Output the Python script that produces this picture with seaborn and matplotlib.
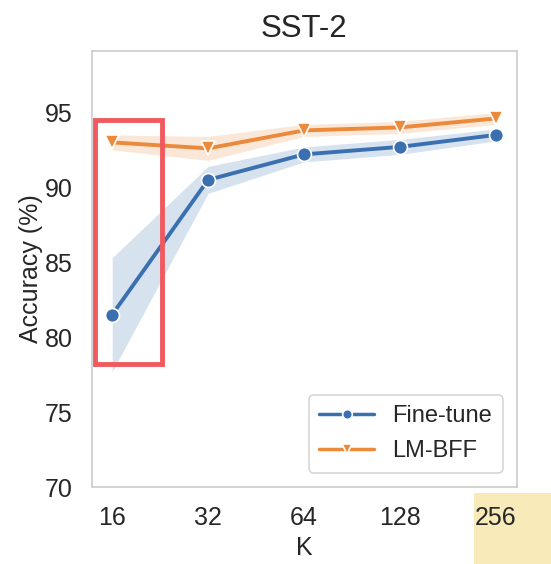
import matplotlib
matplotlib.use("Agg")
import matplotlib.pyplot as plt
import seaborn as sns
import pandas as pd
import numpy as np
from matplotlib.patches import Rectangle

K_labels = ["16", "32", "64", "128", "256"]
finetune_mean = [81.5, 90.5, 92.2, 92.7, 93.5]
finetune_sd = [3.8, 0.9, 0.5, 0.5, 0.4]
lmbff_mean = [93.0, 92.6, 93.8, 94.0, 94.6]
lmbff_sd = [0.5, 0.8, 0.4, 0.4, 0.4]

sns.set_theme(style="whitegrid")
plt.rcParams['font.family'] = ['Liberation Sans', 'DejaVu Sans']

fig = plt.figure(figsize=(5.51, 5.64), dpi=100)
ax = fig.add_axes([92/551, 1-487/564, (517-92)/551, (487-51)/564])

pos = np.arange(len(K_labels))
df = pd.DataFrame({
    "pos": np.concatenate([pos, pos]),
    "acc": finetune_mean + lmbff_mean,
    "method": ["Fine-tune"]*5 + ["LM-BFF"]*5,
})
blue = "#3a6fb0"
orange = "#ea8a3a"
sns.lineplot(data=df, x="pos", y="acc", hue="method", style="method",
             markers={"Fine-tune": "o", "LM-BFF": "v"}, dashes=False,
             palette={"Fine-tune": blue, "LM-BFF": orange},
             linewidth=2.8, markersize=10, markeredgecolor="white",
             markeredgewidth=1.2, ax=ax)
fm, fs = np.array(finetune_mean), np.array(finetune_sd)
lm, ls = np.array(lmbff_mean), np.array(lmbff_sd)
ax.fill_between(pos, fm - fs, fm + fs, color=blue, alpha=0.2, linewidth=0)
ax.fill_between(pos, lm - ls, lm + ls, color=orange, alpha=0.2, linewidth=0)

ax.set_xlim(-0.21, 4.22)
ax.set_ylim(70, 99.1)
ax.set_xticks(pos)
ax.set_xticklabels(K_labels)
ax.set_yticks([70, 75, 80, 85, 90, 95])
ax.grid(False)
for s in ax.spines.values():
    s.set_color("#cccccc")
    s.set_linewidth(1.2)
ax.tick_params(axis="both", labelsize=18, colors="#262626", length=0, pad=14)
ax.set_xlabel("K", fontsize=18, color="#262626", labelpad=4)
ax.set_ylabel("Accuracy (%)", fontsize=18, color="#262626", labelpad=1)
ax.set_title("SST-2", fontsize=22.5, color="#262626", pad=10)

leg = ax.legend(title=None, loc="lower right", fontsize=17, frameon=True,
                handlelength=2.3, handletextpad=0.8, borderpad=0.45,
                labelspacing=0.55, borderaxespad=0,
                bbox_to_anchor=(0.967, 0.032))
leg.get_frame().set_edgecolor("#cccccc")
leg.get_frame().set_linewidth(1.2)
for h in leg.legend_handles:
    h.set_markersize(7)
    h.set_linewidth(2.5)

# red annotation box
ax.add_patch(Rectangle((-0.18, 78.2), 0.70, 16.3, fill=False,
                       edgecolor="#f05a5e", linewidth=3.5, zorder=5,
                       clip_on=False))
# yellow highlight behind 256 label
fig.patches.append(Rectangle((474/551, 0), 77/551, 71/564,
                             transform=fig.transFigure, facecolor="#f7e6a8",
                             alpha=0.8, edgecolor="none", zorder=-1))

fig.savefig("out.png", dpi=100)
